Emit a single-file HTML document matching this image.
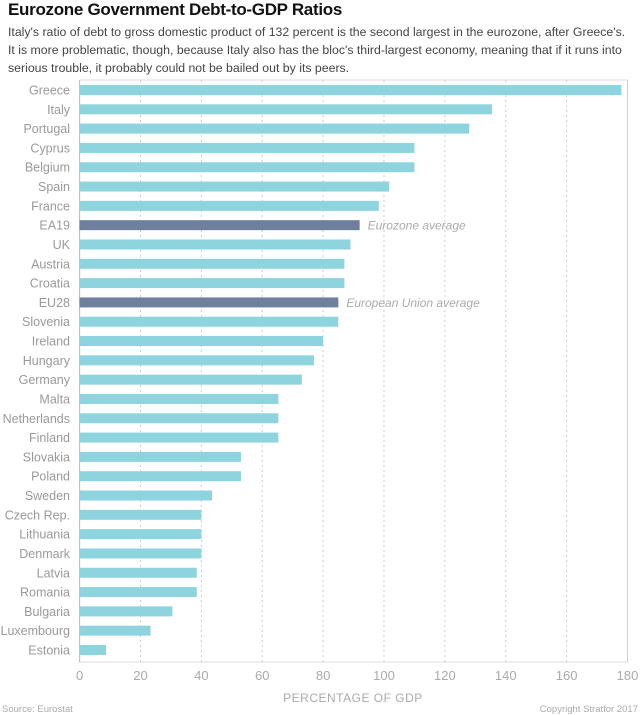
<!DOCTYPE html>
<html><head><meta charset="utf-8"><style>
body{margin:0;background:#fff;width:640px;height:715px;overflow:hidden;font-family:"Liberation Sans",sans-serif}
#title{position:absolute;left:8px;top:0px;font-size:17px;font-weight:bold;color:#111;letter-spacing:-0.3px}
#sub{position:absolute;left:8px;top:23px;font-size:12.3px;line-height:18px;color:#444;white-space:nowrap}
svg{position:absolute;left:0;top:0}
</style></head><body>
<div id="title">Eurozone Government Debt-to-GDP Ratios</div>
<div id="sub">Italy's ratio of debt to gross domestic product of 132 percent is the second largest in the eurozone, after Greece's.<br>It is more problematic, though, because Italy also has the bloc's third-largest economy, meaning that if it runs into<br>serious trouble, it probably could not be bailed out by its peers.</div>
<svg id="chart" width="640" height="715"></svg>
<script>
const categories=["Greece","Italy","Portugal","Cyprus","Belgium","Spain","France","EA19","UK","Austria","Croatia","EU28","Slovenia","Ireland","Hungary","Germany","Malta","Netherlands","Finland","Slovakia","Poland","Sweden","Czech Rep.","Lithuania","Denmark","Latvia","Romania","Bulgaria","Luxembourg","Estonia"];
const values=[178,135.5,128,110,110,101.7,98.3,92,89,87,87,85,85,80,77,73,65.3,65.3,65.3,53,53,43.5,40,40,40,38.5,38.5,30.5,23.3,8.7];
const ticks=[0,20,40,60,80,100,120,140,160,180];
const annotations={"EA19":"Eurozone average","EU28":"European Union average"};
const NS="http://www.w3.org/2000/svg";
const svg=document.getElementById('chart');
const x=v=>79.6+v*(627.5-79.6)/180;
const y=i=>90+i*19.31;
function mk(t,a){const e=document.createElementNS(NS,t);for(const k in a)e.setAttribute(k,a[k]);svg.appendChild(e);return e;}
const fr=mk('rect',{x:79.6,y:80,width:627.5-79.6,height:582,fill:'none',stroke:'#ddd','stroke-width':1});


ticks.forEach(t=>{
  const l=mk('line',{x1:x(t),x2:x(t),y1:80,y2:662,stroke:t==0?'#bbb':'#ccc','stroke-width':1,'stroke-dasharray':(t==0||t==180)?'':'2,3'});
  
  
  const tx=mk('text',{x:x(t),y:680,'text-anchor':'middle','font-size':13,fill:'#aaa'});
  tx.textContent=t;
  
  
});
categories.forEach((c,i)=>{
  const avg=annotations[c]!==undefined;
  const b=mk('rect',{x:x(0),y:y(i)-5,width:x(values[i])-x(0),height:10,fill:avg?'#6f7f9e':'#8dd4de'});
  
  
  const t=mk('text',{x:70,y:y(i)+4.5,'text-anchor':'end','font-size':12.5,fill:'#999'});
  t.textContent=c;
  
  
  if(avg){
    const a=mk('text',{x:x(values[i])+8,y:y(i)+4.5,'font-size':12,'font-style':'italic',fill:'#aaa'});
    a.textContent=annotations[c];
    
    
  }
});
const xt=mk('text',{x:353,y:702,'text-anchor':'middle','font-size':12,fill:'#aaa','letter-spacing':'0.5'});
xt.textContent='PERCENTAGE  OF GDP';


const s=mk('text',{x:2,y:712,'font-size':9.5,fill:'#aaa'});
s.textContent='Source: Eurostat';


const cp=mk('text',{x:638,y:712,'text-anchor':'end','font-size':9.5,fill:'#aaa'});
cp.textContent='Copyright Stratfor 2017';


</script>
</body></html>
